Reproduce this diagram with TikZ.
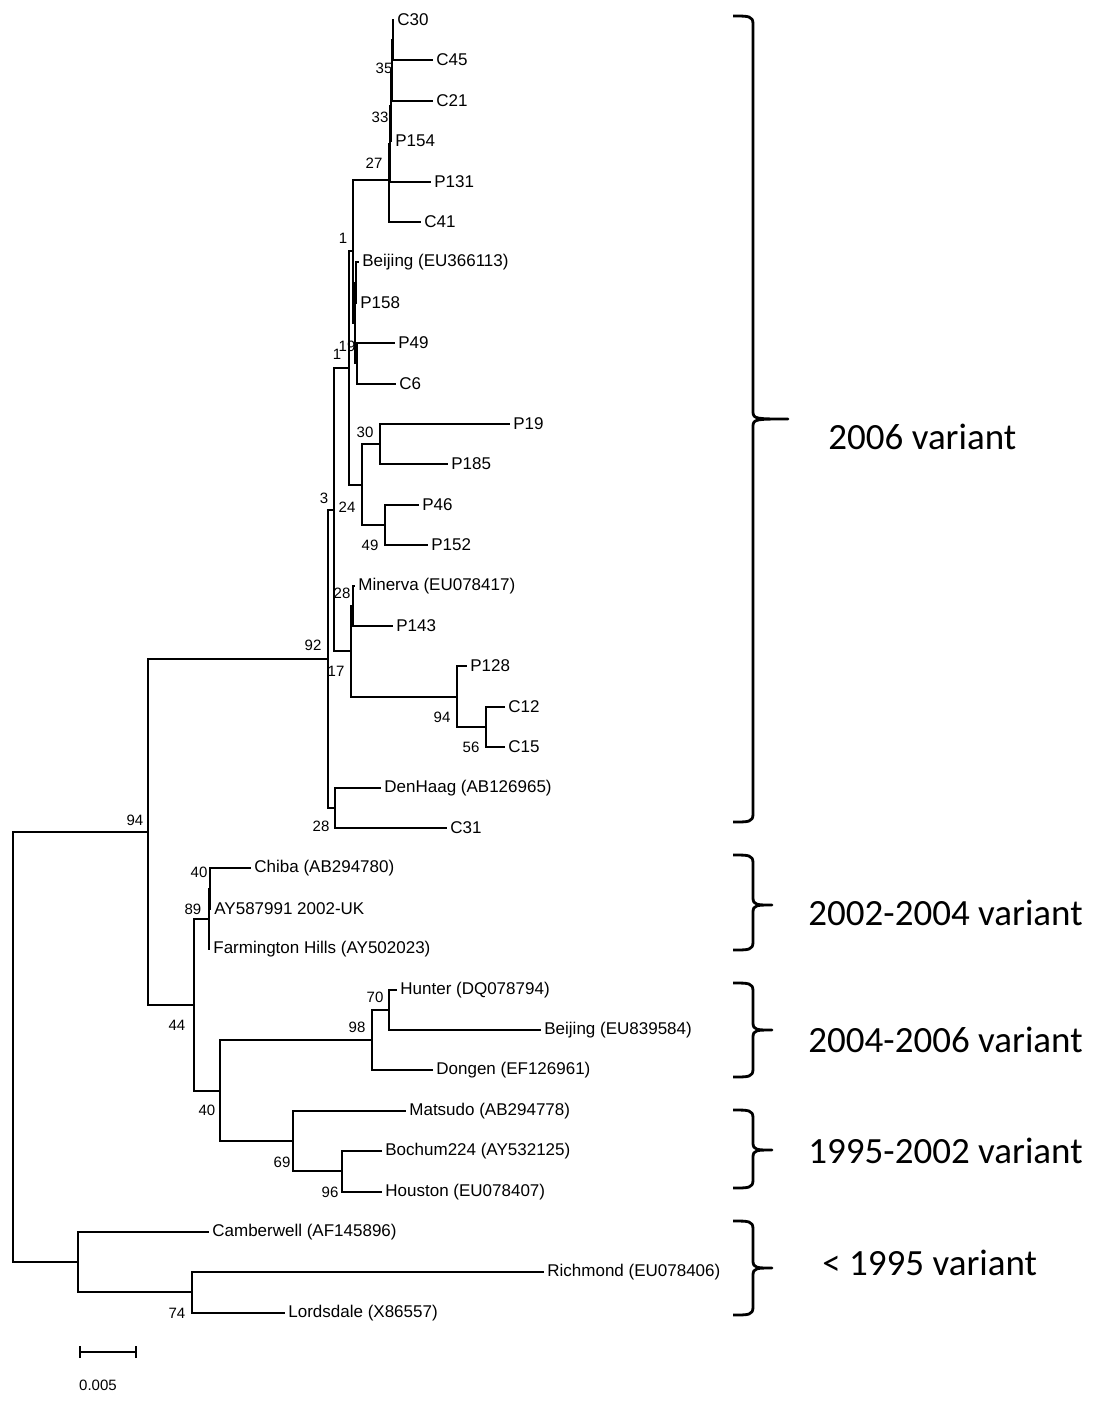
\documentclass[tikz,border=0pt]{standalone}
\usepackage{fontspec}
\setmainfont{Liberation Sans}
\newfontfamily\variantfont{Carlito}
\usetikzlibrary{positioning}
\tikzset{
    %Define style for tree branches
    branch/.style={
           line width=0.75pt,
           line cap=rect},
    %Define elbow connector (vertical, then horizontal)
    elbow/.style={
           to path={|- (\tikztotarget)}},
    %Define style for leaf labels
    leaf/.style={
           anchor=west,
           inner sep=2pt,
           font=\fontsize{8.5}{10}\selectfont},
    %Define style for bootstrap values
    boot/.style={
           inner sep=0pt,
           font=\fontsize{7.5}{9}\selectfont},
    % Define style for variant groups
    bracket/.style={
           line width=1.4pt,
           line join=round},
    variant/.style={
           anchor=west,
           inner sep=0pt,
           font=\variantfont\fontsize{18.5}{22}\selectfont}
}
\begin{document}
\begin{tikzpicture}[x=0.5pt,y=-0.5pt]
\useasboundingbox (0,0) rectangle (1093,1403);

% internal nodes
\coordinate (root) at (13,1047);
\coordinate (n94) at (148,832);
\coordinate (nlow) at (78,1262);
\coordinate (n74) at (192,1292);
\coordinate (n92) at (328,659);
\coordinate (n44) at (194,1005);
\coordinate (n3) at (334,510);
\coordinate (n28) at (335,808);
\coordinate (n1b) at (349,368);
\coordinate (n17) at (351,651);
\coordinate (n1) at (353,251);
\coordinate (n24) at (362,485);
\coordinate (n27) at (389,180);
\coordinate (nd) at (390,144);
\coordinate (n33) at (391,106);
\coordinate (n35) at (392,70);
\coordinate (na) at (393,40);
\coordinate (n19) at (355,323);
\coordinate (ns) at (356,283);
\coordinate (nt) at (357,363);
\coordinate (n30) at (380,444);
\coordinate (n49) at (385,525);
\coordinate (n28b) at (353,606);
\coordinate (n94b) at (457,697);
\coordinate (n56) at (486,727);
\coordinate (n89) at (209,919);
\coordinate (n40) at (210,889);
\coordinate (n40b) at (220,1091);
\coordinate (n98) at (372,1040);
\coordinate (n70) at (389,1010);
\coordinate (n69) at (293,1141);
\coordinate (n96) at (342,1171);

% leaves
\node[leaf] (c30) at (393,20) {C30};
\node[leaf] (c45) at (432,60) {C45};
\node[leaf] (c21) at (432,101) {C21};
\node[leaf] (p154) at (391,141) {P154};
\node[leaf] (p131) at (430,182) {P131};
\node[leaf] (c41) at (420,222) {C41};
\node[leaf] (beijinga) at (358,262) {Beijing (EU366113)};
\node[leaf] (p158) at (356,303) {P158};
\node[leaf] (p49) at (394,343) {P49};
\node[leaf] (c6) at (395,384) {C6};
\node[leaf] (p19) at (509,424) {P19};
\node[leaf] (p185) at (447,464) {P185};
\node[leaf] (p46) at (418,505) {P46};
\node[leaf] (p152) at (427,545) {P152};
\node[leaf] (minerva) at (354,586) {Minerva (EU078417)};
\node[leaf] (p143) at (392,626) {P143};
\node[leaf] (p128) at (466,666) {P128};
\node[leaf] (c12) at (504,707) {C12};
\node[leaf] (c15) at (504,747) {C15};
\node[leaf] (denhaag) at (380,788) {DenHaag (AB126965)};
\node[leaf] (c31) at (446,828) {C31};
\node[leaf] (chiba) at (250,868) {Chiba (AB294780)};
\node[leaf] (ay) at (210,909) {AY587991 2002-UK};
\node[leaf] (farm) at (209,949) {Farmington Hills (AY502023)};
\node[leaf] (hunter) at (396,990) {Hunter (DQ078794)};
\node[leaf] (beijingb) at (540,1030) {Beijing (EU839584)};
\node[leaf] (dongen) at (432,1070) {Dongen (EF126961)};
\node[leaf] (matsudo) at (405,1111) {Matsudo (AB294778)};
\node[leaf] (bochum) at (381,1151) {Bochum224 (AY532125)};
\node[leaf] (houston) at (381,1192) {Houston (EU078407)};
\node[leaf] (camber) at (208,1232) {Camberwell (AF145896)};
\node[leaf] (richmond) at (543,1272) {Richmond (EU078406)};
\node[leaf] (lords) at (284,1313) {Lordsdale (X86557)};

% branches
\path[branch]
    (root) edge[elbow] (n94)
           edge[elbow] (nlow)
    (nlow) edge[elbow] (camber.west)
           edge[elbow] (n74)
    (n74) edge[elbow] (richmond.west)
          edge[elbow] (lords.west)
    (n94) edge[elbow] (n92)
          edge[elbow] (n44)
    (n92) edge[elbow] (n3)
          edge[elbow] (n28)
    (n28) edge[elbow] (denhaag.west)
          edge[elbow] (c31.west)
    (n3) edge[elbow] (n1b)
         edge[elbow] (n17)
    (n1b) edge[elbow] (n1)
          edge[elbow] (n24)
    (n1) edge[elbow] (n27)
         edge[elbow] (n19)
    (n27) edge[elbow] (nd)
          edge[elbow] (c41.west)
    (nd) edge[elbow] (n33)
         edge[elbow] (p131.west)
    (n33) edge[elbow] (n35)
          edge[elbow] (p154.west)
    (n35) edge[elbow] (na)
          edge[elbow] (c21.west)
    (na) edge[elbow] (c30.west)
         edge[elbow] (c45.west)
    (n19) edge[elbow] (ns)
          edge[elbow] (nt)
    (ns) edge[elbow] (beijinga.west)
         edge[elbow] (p158.west)
    (nt) edge[elbow] (p49.west)
         edge[elbow] (c6.west)
    (n24) edge[elbow] (n30)
          edge[elbow] (n49)
    (n30) edge[elbow] (p19.west)
          edge[elbow] (p185.west)
    (n49) edge[elbow] (p46.west)
          edge[elbow] (p152.west)
    (n17) edge[elbow] (n28b)
          edge[elbow] (n94b)
    (n28b) edge[elbow] (minerva.west)
           edge[elbow] (p143.west)
    (n94b) edge[elbow] (p128.west)
           edge[elbow] (n56)
    (n56) edge[elbow] (c12.west)
          edge[elbow] (c15.west)
    (n44) edge[elbow] (n89)
          edge[elbow] (n40b)
    (n89) edge[elbow] (n40)
          edge[elbow] (farm.west)
    (n40) edge[elbow] (chiba.west)
          edge[elbow] (ay.west)
    (n40b) edge[elbow] (n98)
           edge[elbow] (n69)
    (n98) edge[elbow] (n70)
          edge[elbow] (dongen.west)
    (n70) edge[elbow] (hunter.west)
          edge[elbow] (beijingb.west)
    (n69) edge[elbow] (matsudo.west)
          edge[elbow] (n96)
    (n96) edge[elbow] (bochum.west)
          edge[elbow] (houston.west);

% bootstrap values
\node[boot] (b35) at (384,68) {35};
\node[boot] (b33) at (380,117) {33};
\node[boot] (b27) at (374,163) {27};
\node[boot] (b1a) at (343,238) {1};
\node[boot] (b19) at (347,346) {19};
\node[boot] (b1b) at (337,354) {1};
\node[boot] (b30) at (365,432) {30};
\node[boot] (b24) at (347,507) {24};
\node[boot] (b3) at (324,498) {3};
\node[boot] (b49) at (370,545) {49};
\node[boot] (b28a) at (342,593) {28};
\node[boot] (b92) at (313,645) {92};
\node[boot] (b17) at (336,671) {17};
\node[boot] (b94a) at (442,717) {94};
\node[boot] (b56) at (471,747) {56};
\node[boot] (b28b) at (321,826) {28};
\node[boot] (b94b) at (135,820) {94};
\node[boot] (b40a) at (199,872) {40};
\node[boot] (b89) at (193,909) {89};
\node[boot] (b70) at (375,997) {70};
\node[boot] (b98) at (357,1027) {98};
\node[boot] (b44) at (177,1025) {44};
\node[boot] (b40b) at (207,1110) {40};
\node[boot] (b69) at (282,1162) {69};
\node[boot] (b96) at (330,1192) {96};
\node[boot] (b74) at (177,1313) {74};

% scale bar
\coordinate (barl) at (80,1352);
\coordinate (barr) at (136,1352);
\draw[line width=0.75pt] (barl) -- (barr)
    ([yshift=-3pt]barl) -- ([yshift=3pt]barl)
    ([yshift=-3pt]barr) -- ([yshift=3pt]barr);
\node[boot, below=14pt of barl, xshift=9pt] (barlabel) {0.005};

% variant groups
\foreach \top/\mid/\bot/\tip/\lx/\ly/\name/\txt in {
    16/419/822/788/828/437/v2006/{2006 variant},
    855/905/950/772/808/913/v2002/{2002-2004 variant},
    983/1030/1077/772/808/1040/v2004/{2004-2006 variant},
    1110/1150/1188/772/808/1151/v1995/{1995-2002 variant},
    1221/1268/1315/772/822/1263/vold/{< 1995 variant}}{
  \draw[bracket] (733,\top) .. controls (749,\top) and (753,\top) .. (753,\top+8)
      -- (753,\mid-7) .. controls (753,\mid) and (757,\mid) .. (\tip,\mid)
      .. controls (757,\mid) and (753,\mid) .. (753,\mid+7)
      -- (753,\bot-8) .. controls (753,\bot) and (749,\bot) .. (733,\bot);
  \node[variant] (\name) at (\lx,\ly) {\txt};
}

\end{tikzpicture}
\end{document}
